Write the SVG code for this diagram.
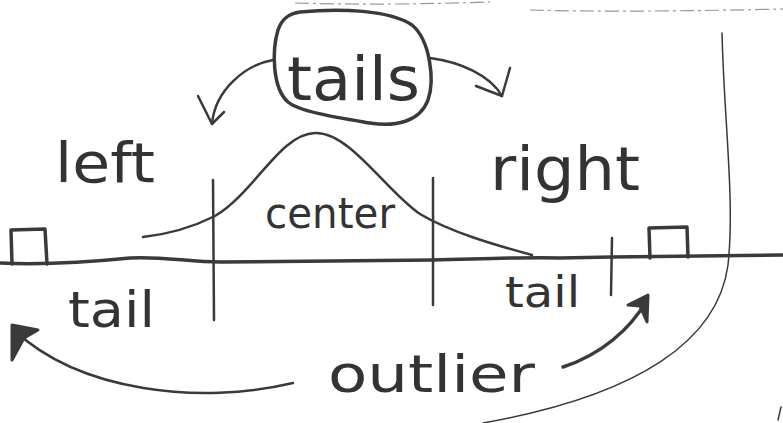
<svg xmlns="http://www.w3.org/2000/svg" width="783" height="423" viewBox="0 0 783 423">
  <style>
    .ink { fill: none; stroke: #3a3a3a; stroke-linecap: round; stroke-linejoin: round; }
    .hw { font-family: "DejaVu Sans", "Liberation Sans", sans-serif; fill: #333; }
    .thick { stroke-width: 3.5; }
    .mid { stroke-width: 2.5; }
    .thin { stroke-width: 1.5; }
    .faint { fill: none; stroke: #999; stroke-width: 1.2; stroke-dasharray: 14 4 3 4; }
    .head { fill: #3a3a3a; stroke: #3a3a3a; stroke-width: 3; stroke-linejoin: round; }
  </style>
  <rect width="783" height="423" fill="#fff"/>

  <!-- scan artifacts at the top -->
  <path class="faint" d="M295,3 C360,5 430,4 490,2"/>
  <path class="faint" d="M530,10 C600,12 700,11 783,9"/>

  <!-- axis -->
  <path class="ink thick" d="M0,263 C40,265 90,262 130,258 C160,256 190,262 220,262 L433,260 C480,259 520,257 560,258 L612,257 L783,255"/>

  <!-- bell curve -->
  <path class="ink mid" d="M143,237 C170,234 195,226 215,216 C255,192 280,134 315,133 C350,132 385,190 420,214 C450,232 495,245 532,255"/>

  <!-- dividers -->
  <path class="ink mid" d="M213,180 L214,320"/>
  <path class="ink mid" d="M433,178 L433,305"/>
  <path class="ink mid" d="M612,238 L611,295"/>

  <!-- big J curve -->
  <path class="ink thin" d="M722,33 C724,120 735,200 728,265 C718,340 640,395 483,423"/>
  <path class="ink thin" d="M778,420 L781,407"/>

  <!-- nodes -->
  <g id="tails">
    <path class="ink thick" d="M300,12 C340,8 390,10 412,25 C430,40 435,80 428,100 C420,122 395,127 370,123 C340,118 300,112 288,102 C272,88 272,50 278,30 C283,16 292,13 300,12 Z"/>
    <text class="hw" x="287" y="100" font-size="60" textLength="133" lengthAdjust="spacingAndGlyphs">tails</text>
  </g>
  <g id="left-label">
    <text class="hw" x="55" y="182" font-size="55" textLength="100" lengthAdjust="spacingAndGlyphs">left</text>
  </g>
  <g id="right-label">
    <text class="hw" x="490" y="190" font-size="60" textLength="150" lengthAdjust="spacingAndGlyphs">right</text>
  </g>
  <g id="center-label">
    <text class="hw" x="265" y="228" font-size="42" textLength="130" lengthAdjust="spacingAndGlyphs">center</text>
  </g>
  <g id="left-tail">
    <text class="hw" x="68" y="327" font-size="50" textLength="87" lengthAdjust="spacingAndGlyphs">tail</text>
  </g>
  <g id="right-tail">
    <text class="hw" x="505" y="307" font-size="42" textLength="75" lengthAdjust="spacingAndGlyphs">tail</text>
  </g>
  <g id="left-outlier">
    <path class="ink thick" d="M12,264 L11,230 L45,229 L47,264"/>
  </g>
  <g id="right-outlier">
    <path class="ink thick" d="M650,258 L649,228 L687,227 L688,257"/>
  </g>
  <g id="outlier">
    <text class="hw" x="328" y="392" font-size="52" textLength="207" lengthAdjust="spacingAndGlyphs">outlier</text>
  </g>

  <!-- connectors -->
  <g id="connectors">
    <path class="ink mid" d="M273,60 C245,65 215,90 212,124"/>
    <path class="ink mid" d="M198,96 L212,124 L224,112"/>
    <path class="ink mid" d="M430,58 C460,62 490,75 502,96"/>
    <path class="ink mid" d="M476,86 L502,96 L510,68"/>
    <path class="ink mid" d="M293,383 C200,405 80,392 14,330"/>
    <path class="head" d="M12,325 L38,330 L24,338 L12,360 Z"/>
    <path class="ink thick" d="M563,367 C600,355 630,330 647,300"/>
    <path class="head" d="M648,295 L628,305 L640,306 L647,322 Z"/>
  </g>
</svg>
